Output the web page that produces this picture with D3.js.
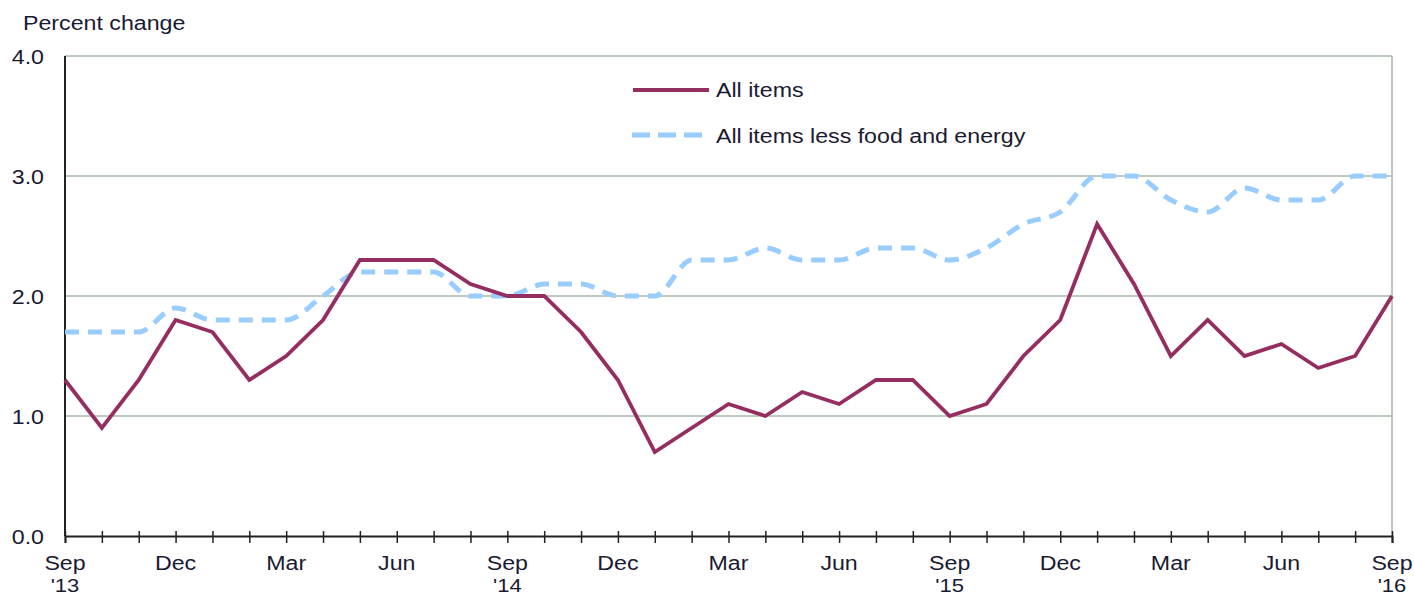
<!DOCTYPE html>
<html><head><meta charset="utf-8">
<script src="https://cdn.jsdelivr.net/npm/d3@7"></script>
<style>body{margin:0;background:#fff;}svg{display:block;}text{font-family:"Liberation Sans",Arial,sans-serif;fill:#1a1a33;}</style>
</head><body>
<svg id="c" width="1414" height="598"></svg>
<script>
const months = ["Sep","Oct","Nov","Dec","Jan","Feb","Mar","Apr","May","Jun","Jul","Aug",
"Sep","Oct","Nov","Dec","Jan","Feb","Mar","Apr","May","Jun","Jul","Aug",
"Sep","Oct","Nov","Dec","Jan","Feb","Mar","Apr","May","Jun","Jul","Aug","Sep"];
const allItems = [1.3,0.9,1.3,1.8,1.7,1.3,1.5,1.8,2.3,2.3,2.3,2.1,
2.0,2.0,1.7,1.3,0.7,0.9,1.1,1.0,1.2,1.1,1.3,1.3,
1.0,1.1,1.5,1.8,2.6,2.1,1.5,1.8,1.5,1.6,1.4,1.5,2.0];
const core = [1.7,1.7,1.7,1.9,1.8,1.8,1.8,2.0,2.2,2.2,2.2,2.0,
2.0,2.1,2.1,2.0,2.0,2.3,2.3,2.4,2.3,2.3,2.4,2.4,
2.3,2.4,2.6,2.7,3.0,3.0,2.8,2.7,2.9,2.8,2.8,3.0,3.0];
const yTicks = [0,1,2,3,4];
const labelIdx = [0,3,6,9,12,15,18,21,24,27,30,33,36];
const yearLabels = {0:"'13",12:"'14",24:"'15",36:"'16"};

const svg = d3.select("#c");
const L=65,R=1392,T=56,B=536;
const FS=20, SX=1.16;
const x = d3.scaleLinear().domain([0,months.length-1]).range([L,R]);
const y = d3.scaleLinear().domain([0,4]).range([B,T]);

function txt(g, px, py, s, anchor, fs){
  return g.append("text").attr("transform",`translate(${px},${py}) scale(${SX},1)`)
   .attr("text-anchor",anchor||"start").attr("font-size",fs||FS).text(s);
}

// grid
svg.append("g").selectAll("line").data(yTicks.filter(d=>d>0)).join("line")
 .attr("x1",L).attr("x2",R).attr("y1",d=>y(d)).attr("y2",d=>y(d))
 .attr("stroke","#a9b9a9").attr("stroke-width",1.5);
svg.append("line").attr("x1",R).attr("x2",R).attr("y1",T).attr("y2",B)
 .attr("stroke","#a9b9a9").attr("stroke-width",1.5);

// y labels
const gy = svg.append("g");
yTicks.forEach(d=>txt(gy,44,y(d)+8,d.toFixed(1),"end"));
txt(svg,23,30,"Percent change");

// axes
svg.append("line").attr("x1",L).attr("x2",L).attr("y1",T).attr("y2",B).attr("stroke","#222").attr("stroke-width",2);
const xAxis = d3.axisBottom(x).tickValues(d3.range(months.length)).tickSize(7).tickFormat("");
const gx = svg.append("g").attr("transform",`translate(0,${B})`).call(xAxis);
gx.select(".domain").attr("stroke","#222").attr("stroke-width",2);
gx.selectAll(".tick line").attr("stroke","#222").attr("stroke-width",1.5).attr("y1",-5);

const gl = svg.append("g");
labelIdx.forEach(d=>txt(gl,x(d),570,months[d],"middle"));
Object.keys(yearLabels).map(Number).forEach(d=>txt(gl,x(d),592,yearLabels[d],"middle",19));

// lines
const lineCore = d3.line().x((d,i)=>x(i)).y(d=>y(d)).curve(d3.curveMonotoneX);
svg.append("path").datum(core).attr("d",lineCore).attr("fill","none")
 .attr("stroke","#99ccff").attr("stroke-width",5).attr("stroke-dasharray","14,9");
const lineAll = d3.line().x((d,i)=>x(i)).y(d=>y(d));
svg.append("path").datum(allItems).attr("d",lineAll).attr("fill","none")
 .attr("stroke","#952d60").attr("stroke-width",3.8).attr("stroke-linejoin","miter");

// legend
svg.append("line").attr("x1",633).attr("x2",709).attr("y1",90).attr("y2",90)
 .attr("stroke","#952d60").attr("stroke-width",3.8);
txt(svg,716,97,"All items");
svg.append("line").attr("x1",632).attr("x2",702).attr("y1",135).attr("y2",135)
 .attr("stroke","#99ccff").attr("stroke-width",5).attr("stroke-dasharray","18,8");
txt(svg,716,143,"All items less food and energy");
</script>
</body></html>
